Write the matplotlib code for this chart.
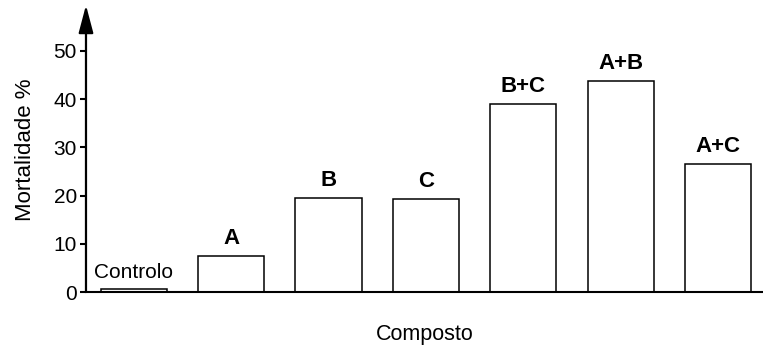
import matplotlib.pyplot as plt

plt.rcParams['font.family'] = ['Liberation Sans', 'DejaVu Sans']

# dados
compostos = ['Controlo', 'A', 'B', 'C', 'B+C', 'A+B', 'A+C']
mortalidade = [0.7, 7.5, 19.5, 19.3, 39.0, 43.8, 26.5]
yticks = [0, 10, 20, 30, 40, 50]

fig = plt.figure(figsize=(7.63, 3.45), dpi=100)
ax = fig.add_axes([0.1127, 0.1536, 0.8873, 0.8232])

x = range(len(compostos))
bars = ax.bar(x, mortalidade, width=0.68, color='white', edgecolor='black',
              linewidth=1.1, zorder=2)

# rótulos por cima das barras
for b, nome in zip(bars, compostos):
    if nome == 'Controlo':
        peso, tam = 'normal', 15
    else:
        peso, tam = 'bold', 16
    ax.annotate(nome, (b.get_x() + b.get_width() / 2, b.get_height()),
                xytext=(0, 5), textcoords='offset points',
                ha='center', va='bottom', fontsize=tam, fontweight=peso)

ax.set_xlim(-0.49, 6.46)
ax.set_ylim(0, 58.9)
ax.set_xticks([])
ax.set_yticks(yticks)
ax.tick_params(axis='y', direction='out', length=4.5, width=1.5,
               labelsize=15, pad=2)

for s in ['top', 'right', 'left']:
    ax.spines[s].set_visible(False)
ax.spines['bottom'].set_linewidth(1.5)
ax.spines['bottom'].set_zorder(3)

# eixo y com seta
ax.annotate('', xy=(0, 1.01), xytext=(0, 0), xycoords='axes fraction',
            arrowprops=dict(arrowstyle='-|>,head_length=1.7,head_width=0.45',
                            mutation_scale=10, lw=1.6, color='black',
                            shrinkA=0, shrinkB=0))

ax.set_ylabel('Mortalidade %', fontsize=16, labelpad=13)
ax.set_xlabel('Composto', fontsize=15.5, labelpad=23)

fig.savefig('out.png', dpi=100)
